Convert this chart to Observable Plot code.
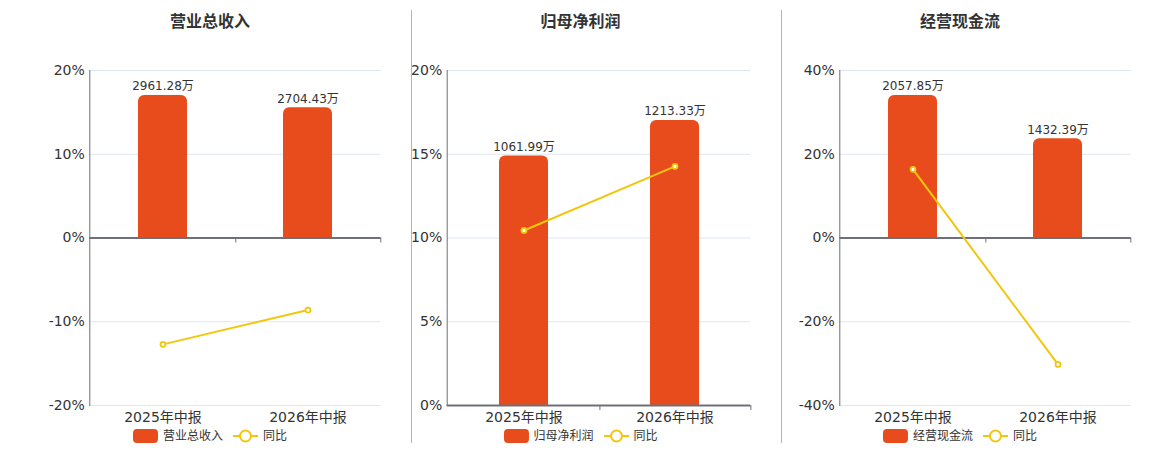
<!DOCTYPE html>
<html>
<head>
<meta charset="utf-8">
<script src="https://cdn.jsdelivr.net/npm/d3@7"></script>
<script src="https://cdn.jsdelivr.net/npm/@observablehq/plot@0.6"></script>
<style>
  html, body { margin: 0; padding: 0; background: #fff; }
  body { width: 1160px; height: 450px; position: relative; overflow: hidden;
         font-family: "DejaVu Sans", "Noto Sans CJK SC", sans-serif; }
  .layer { position: absolute; left: 0; top: 0; }
  .title { position: absolute; top: 12px; transform: translateX(-50%); font-size: 16px; font-weight: bold; color: #333; white-space: nowrap; line-height: 20px; }
  .legend { position: absolute; top: 428px; transform: translateX(-50%); display: flex; align-items: center; font-size: 12px; color: #333; white-space: nowrap; line-height: 16px; }
  .legend .sw { width: 25px; height: 14px; background: #E84C1D; border-radius: 4px; margin-right: 5px; }
  .legend .ln { margin-left: 10px; margin-right: 5px; }
  .divider { position: absolute; top: 10px; width: 1px; height: 433px; background: #b5b5b5; }
</style>
</head>
<body>
<div id="root"></div>
<script>
// ---- data ----
const periods = ["2025年中报", "2026年中报"];
const panelTitles = ["营业总收入", "归母净利润", "经营现金流"];
const revenueValues = [2961.28, 2704.43];   // 万
const revenueYoy = [-12.7, -8.6];          // %
const profitValues = [1061.99, 1213.33];    // 万
const profitYoy = [10.45, 14.28];          // %
const cashValues = [2057.85, 1432.39];      // 万
const cashYoy = [16.4, -30.2];             // %
const revenueTicks = [-20, -10, 0, 10, 20];
const profitTicks = [0, 5, 10, 15, 20];
const cashTicks = [-40, -20, 0, 20, 40];

// ---- layout ----
const W = 1160, H = 450;
const panels = [
  {title: panelTitles[0], values: revenueValues, yoy: revenueYoy, ticks: revenueTicks, left: 89.3, right: 380.5, center: 210, barMax: 3480},
  {title: panelTitles[1], values: profitValues, yoy: profitYoy, ticks: profitTicks, left: 446.7, right: 750.3, center: 580.5, barMax: 1426},
  {title: panelTitles[2], values: cashValues, yoy: cashYoy, ticks: cashTicks, left: 839.3, right: 1130.7, center: 960, barMax: 2418}
];
const BAR_COLOR = "#E84C1D";
const LINE_COLOR = "#F3C60E";
const AXIS_COLOR = "#6E7079";
const GRID_COLOR = "#E0E6F1";
const TEXT_COLOR = "#333";

const root = document.getElementById("root");

panels.forEach(p => {
  const yMin = p.ticks[0], yMax = p.ticks[p.ticks.length - 1];
  const rows = periods.map((c, i) => ({cat: c, value: p.values[i], yoy: p.yoy[i], scaled: p.values[i] / p.barMax * yMax}));
  const plotW = p.right - p.left;
  const step = plotW / periods.length;
  const pad = 1 - 49 / step;

  const chart = Plot.plot({
    width: W,
    height: H,
    marginLeft: p.left,
    marginRight: W - p.right,
    marginTop: 70,
    marginBottom: 45,
    style: {fontFamily: '"DejaVu Sans", "Noto Sans CJK SC", sans-serif', background: "transparent", overflow: "visible"},
    x: {domain: periods, paddingInner: pad, paddingOuter: pad / 2, axis: null, label: null},
    y: {domain: [yMin, yMax], axis: null, label: null},
    marks: [
      Plot.gridY(p.ticks, {stroke: GRID_COLOR, strokeOpacity: 1}),
      Plot.barY(rows, {x: "cat", y: "scaled", fill: BAR_COLOR, rx: 6}),
      Plot.barY(rows, {x: "cat", y: d => d.scaled / 2, fill: BAR_COLOR}),
      Plot.text(rows, {x: "cat", y: "scaled", text: d => d.value.toFixed(2) + "万", dy: -5, lineAnchor: "bottom", fontSize: 12, fill: TEXT_COLOR}),
      Plot.axisY(p.ticks, {tickSize: 0, tickPadding: 5, tickFormat: d => d + "%", fontSize: 14, fill: TEXT_COLOR, label: null}),
      Plot.axisX({anchor: "bottom", tickSize: 0, tickPadding: 7, fontSize: 14, fill: TEXT_COLOR, label: null}),
      Plot.ruleY([0], {stroke: AXIS_COLOR, strokeWidth: 2}),
      Plot.ruleX(rows, {x: "cat", y1: 0, y2: 0, dx: step / 2, insetTop: 0, insetBottom: -5, stroke: AXIS_COLOR, strokeWidth: 1}),
      Plot.frame({anchor: "left", stroke: AXIS_COLOR, strokeWidth: 1}),
      Plot.line(rows, {x: "cat", y: "yoy", stroke: LINE_COLOR, strokeWidth: 2}),
      Plot.dot(rows, {x: "cat", y: "yoy", r: 2.5, fill: "#fff", stroke: LINE_COLOR, strokeWidth: 1.8})
    ]
  });
  chart.classList.add("layer");
  root.appendChild(chart);

  const t = document.createElement("div");
  t.className = "title";
  t.style.left = p.center + "px";
  t.textContent = p.title;
  root.appendChild(t);

  const lg = document.createElement("div");
  lg.className = "legend";
  lg.style.left = p.center + "px";
  lg.innerHTML = `<div class="sw"></div><span>${p.title}</span>` +
    `<svg class="ln" width="25" height="14"><line x1="0" y1="7" x2="25" y2="7" stroke="${LINE_COLOR}" stroke-width="2"/><circle cx="12.5" cy="7" r="5.5" fill="#fff" stroke="${LINE_COLOR}" stroke-width="2"/></svg><span>同比</span>`;
  root.appendChild(lg);
});

[410.5, 780.5].forEach(x => {
  const d = document.createElement("div");
  d.className = "divider";
  d.style.left = x + "px";
  root.appendChild(d);
});
</script>
</body>
</html>
